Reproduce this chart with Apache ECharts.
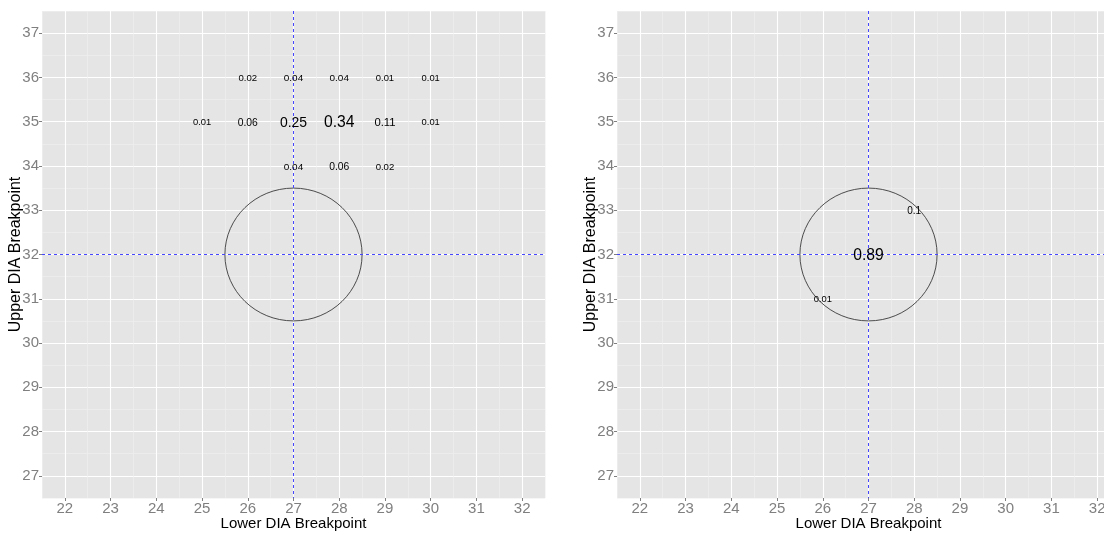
<!DOCTYPE html>
<html><head><meta charset="utf-8">
<script src="https://cdn.jsdelivr.net/npm/echarts@6/dist/echarts.min.js"></script>
<style>html,body{margin:0;padding:0;background:#fff;overflow:hidden}#c{width:1104px;height:535px}</style>
</head><body><div id="c"></div>
<script>
// ---- data ----
const xTicks = [22, 23, 24, 25, 26, 27, 28, 29, 30, 31, 32];
const yTicks = [27, 28, 29, 30, 31, 32, 33, 34, 35, 36, 37];
const xRange = [21.5, 32.5];
const yRange = [26.5, 37.5];
const crossX = 27;
const crossY = 32;
const circleCenter = [27, 32];
const circleRadius = 1.5;
const xTitle = 'Lower DIA Breakpoint';
const yTitle = 'Upper DIA Breakpoint';

const leftX = [26, 27, 28, 29, 30, 25, 26, 27, 28, 29, 30, 27, 28, 29];
const leftY = [36, 36, 36, 36, 36, 35, 35, 35, 35, 35, 35, 34, 34, 34];
const leftP = [0.02, 0.04, 0.04, 0.01, 0.01, 0.01, 0.06, 0.25, 0.34, 0.11, 0.01, 0.04, 0.06, 0.02];

const rightX = [27, 28, 26];
const rightY = [32, 33, 31];
const rightP = [0.89, 0.1, 0.01];

// ---- chart ----
const FONT = "'Liberation Sans Narrow', 'Arial Narrow', 'Liberation Sans', Arial, sans-serif";
const panels = [
  { left: 42, xs: leftX, ys: leftY, ps: leftP },
  { left: 617, xs: rightX, ys: rightY, ps: rightP }
];

const grid = [], xAxis = [], yAxis = [], series = [];
panels.forEach((p, i) => {
  grid.push({ left: p.left, width: 503, top: 11, height: 487, show: true,
    backgroundColor: '#e5e5e5', borderWidth: 0, containLabel: false, outerBoundsMode: 'none' });
  // main axes
  xAxis.push({ type: 'value', gridIndex: i, min: xRange[0], max: xRange[1], position: 'bottom',
    axisLine: { show: false },
    axisTick: { show: true, length: 3, customValues: xTicks, lineStyle: { color: '#7f7f7f' } },
    axisLabel: { customValues: xTicks, color: '#7f7f7f', fontSize: 15, margin: 3, fontFamily: FONT },
    splitLine: { show: true, lineStyle: { color: '#ffffff', width: 1.1 } },
    name: xTitle, nameLocation: 'middle', nameGap: 18.5, nameMoveOverlap: false,
    nameTextStyle: { color: '#000', fontSize: 15, fontFamily: FONT } });
  yAxis.push({ type: 'value', gridIndex: i, min: yRange[0], max: yRange[1], position: 'left',
    axisLine: { show: false },
    axisTick: { show: true, length: 3, customValues: yTicks, lineStyle: { color: '#7f7f7f' } },
    axisLabel: { customValues: yTicks, color: '#7f7f7f', fontSize: 15, margin: 3, fontFamily: FONT },
    splitLine: { show: true, lineStyle: { color: '#ffffff', width: 1.1 } },
    name: yTitle, nameLocation: 'middle', nameGap: 18, nameRotate: 90, nameMoveOverlap: false,
    nameTextStyle: { color: '#000', fontSize: 16, fontFamily: FONT } });
  // minor grid axes (ticks counted from min with interval 1 -> half values)
  xAxis.push({ type: 'value', gridIndex: i, min: xRange[0], max: xRange[1], interval: 1, position: 'bottom',
    axisLine: { show: false }, axisTick: { show: false }, axisLabel: { show: false },
    splitLine: { show: true, lineStyle: { color: '#f0f0f0', width: 0.6 } } });
  yAxis.push({ type: 'value', gridIndex: i, min: yRange[0], max: yRange[1], interval: 1, position: 'left',
    axisLine: { show: false }, axisTick: { show: false }, axisLabel: { show: false },
    splitLine: { show: true, lineStyle: { color: '#f0f0f0', width: 0.6 } } });

  const ax = 2 * i;
  // circle
  series.push({ type: 'custom', xAxisIndex: ax, yAxisIndex: ax, silent: true, z: 3,
    data: [[circleCenter[0], circleCenter[1], circleRadius]],
    renderItem: (params, api) => {
      const c = api.coord([api.value(0), api.value(1)]);
      const s = api.size([api.value(2), api.value(2)]);
      return { type: 'ellipse', shape: { cx: c[0], cy: c[1], rx: s[0], ry: s[1] },
        style: { fill: 'none', stroke: '#3a3a3a', lineWidth: 0.9 } };
    } });
  // cross lines (reference lines at crossX / crossY spanning the panel)
  series.push({ type: 'custom', xAxisIndex: ax, yAxisIndex: ax, silent: true, z: 4,
    data: [[crossX, crossY]],
    renderItem: (params, api) => {
      const x = api.value(0), y = api.value(1);
      const t = api.coord([x, yRange[1]]), b = api.coord([x, yRange[0]]);
      const l = api.coord([xRange[0], y]), r = api.coord([xRange[1], y]);
      const px = Math.floor(t[0]) + 0.5, py = Math.floor(l[1]) + 0.5;
      const st = { stroke: '#4646ff', lineWidth: 1, lineDash: [3, 3], fill: null };
      return { type: 'group', children: [
        { type: 'line', shape: { x1: px, y1: t[1], x2: px, y2: b[1] }, style: st },
        { type: 'line', shape: { x1: l[0], y1: py, x2: r[0], y2: py }, style: st }
      ] };
    } });
  // probability labels
  const pmin = Math.min(...p.ps), pmax = Math.max(...p.ps);
  series.push({ type: 'custom', xAxisIndex: ax, yAxisIndex: ax, silent: true, z: 5,
    data: p.xs.map((x, k) => [x, p.ys[k], p.ps[k]]),
    renderItem: (params, api) => {
      const c = api.coord([api.value(0), api.value(1)]);
      const v = api.value(2);
      const fs = 9.4 + 6.3 * (v - pmin) / (pmax - pmin);
      return { type: 'text', x: c[0], y: c[1] + 1,
        style: { text: String(v), fontSize: fs, fontFamily: FONT, fill: '#000',
          align: 'center', verticalAlign: 'middle' } };
    } });
});

const chart = echarts.init(document.getElementById('c'), null, { renderer: 'canvas' });
chart.setOption({ animation: false, grid, xAxis, yAxis, series });
</script></body></html>
